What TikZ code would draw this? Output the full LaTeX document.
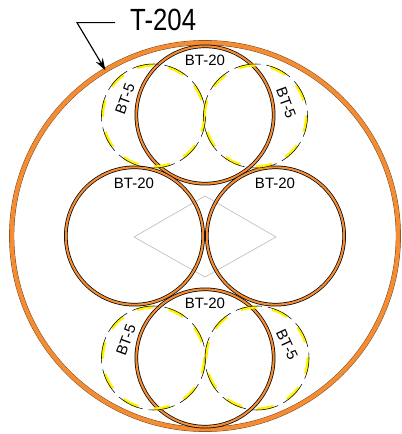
\documentclass[tikz,border=0pt]{standalone}
\usepackage{fontspec}
\setmainfont{Liberation Sans}
\usetikzlibrary{arrows.meta}
\definecolor{ringorange}{RGB}{243,140,50}
\tikzset{
  x=0.75pt, y=-0.75pt,
  ringbase/.style={circle, inner sep=0pt, outer sep=0pt, anchor=center, double=ringorange},
  tankring/.style={ringbase, draw=black!60!ringorange, line width=0.3pt, double distance=3.2pt, minimum size=290pt},
  bigpipe/.style={ringbase, draw=black, line width=0.55pt, double distance=1.6pt, minimum size=103pt},
  smallbase/.style={circle, inner sep=0pt, outer sep=0pt, anchor=center, rotate=-18},
  smallyellow/.style={smallbase, minimum size=76.4pt, draw=yellow, line width=2.3pt, dash pattern=on 12.5pt off 11.5pt},
  smallblack/.style={smallbase, minimum size=78pt, draw=black, line width=0.4pt, dash pattern=on 20pt off 4.5pt, dash phase=3.75pt},
  lbl/.style={inner sep=0pt, font=\fontsize{11.25pt}{13pt}\selectfont},
  leader/.style={draw=black, line width=0.85pt},
  diamondline/.style={draw=black!25, line width=0.5pt}
}
\begin{document}
\begin{tikzpicture}
\useasboundingbox (0,0) rectangle (401,434);
\node[tankring] (tank) at (205,236) {};
% diamond
\coordinate (dl) at (134,237);
\coordinate (dt) at (205,196);
\coordinate (dr) at (276,237);
\coordinate (db) at (205,277);
\draw[diamondline] (dl) -- (dt) -- (dr) -- (db) -- cycle;
% BT-20
\node[bigpipe] (top) at (205,115) {};
\node[bigpipe] (left) at (134.5,236) {};
\node[bigpipe] (right) at (275.5,236) {};
\node[bigpipe] (bot) at (205,358) {};
% BT-5
\foreach \n/\px/\py in {tl/153.5/116, tr/255.5/116, bl/153.5/358, br/257/358}{
  \node[smallyellow] (\n) at (\px,\py) {};
  \node[smallblack] (\n k) at (\px,\py) {};
}
% labels
\node[lbl] (ltop) at (205,60) {BT-20};
\node[lbl] (lleft) at (134,183) {BT-20};
\node[lbl] (lright) at (275,183) {BT-20};
\node[lbl] (lbot) at (205,303) {BT-20};
\node[lbl, rotate=70] (l1) at (125,99) {BT-5};
\node[lbl, rotate=-70] (l2) at (286,103) {BT-5};
\node[lbl, rotate=70] (l3) at (126,340) {BT-5};
\node[lbl, rotate=-65] (l4) at (287,345) {BT-5};
% tag
\node[inner sep=0pt, anchor=west, font=\fontsize{23pt}{26pt}\selectfont, xscale=0.84, transform shape] (tag) at (130,20) {T-204};
\coordinate (elbow) at (77,22.6);
\draw[leader, -{Stealth[length=9pt,width=6pt]}] (tag.west |- elbow) ++(-15,0) -- (elbow) -- (tank.121.5);
\end{tikzpicture}
\end{document}
